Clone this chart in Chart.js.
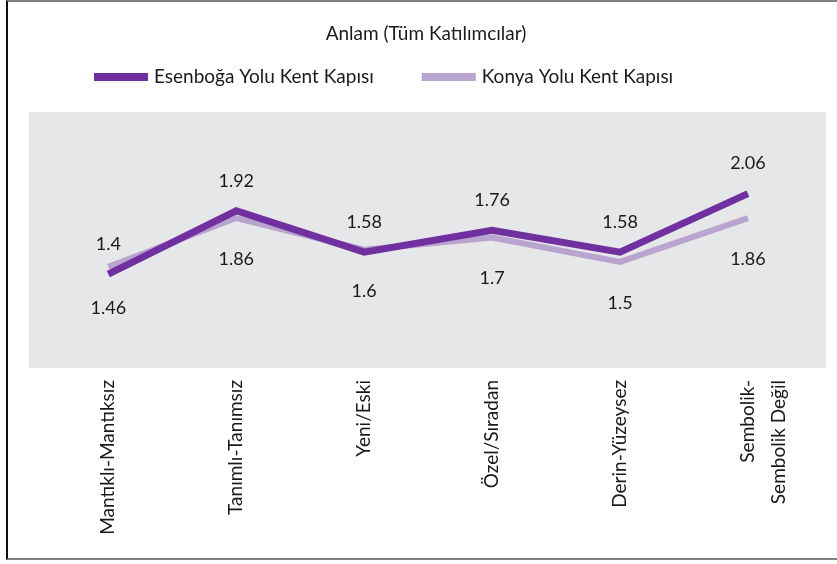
<!DOCTYPE html>
<html>
<head>
<meta charset="utf-8">
<script src="https://cdn.jsdelivr.net/npm/chart.js@4/dist/chart.umd.min.js"></script>
<style>
  html, body { margin: 0; padding: 0; background: #fff; overflow: hidden; }
  #wrap { position: relative; width: 837px; height: 564px; }
  #frame {
    position: absolute; left: 6px; top: 0; width: 900px; height: 556px;
    border-left: 2px solid #111; border-top: 2px solid #808080; border-bottom: 2px solid #808080;
  }
  #chart { position: absolute; left: 0; top: 0; }
</style>
</head>
<body>
<div id="wrap">
  <div id="frame"></div>
  <canvas id="chart" width="837" height="564"></canvas>
</div>
<script>
var chartTitle = "Anlam (Tüm Katılımcılar)";
var categories = [
  "Mantıklı-Mantıksız",
  "Tanımlı-Tanımsız",
  "Yeni/Eski",
  "Özel/Sıradan",
  "Derin-Yüzeysez",
  ["Sembolik-", "Sembolik Değil"]
];
var seriesNames = ["Esenboğa Yolu Kent Kapısı", "Konya Yolu Kent Kapısı"];
var esenboga = [1.4, 1.92, 1.58, 1.76, 1.58, 2.06];
var konya = [1.46, 1.86, 1.6, 1.7, 1.5, 1.86];
var seriesColors = ["#7030a0", "#b9a3cf"];

var FONT = "Lato, 'Open Sans', sans-serif";

function toPoints(values) {
  return values.map(function (v, i) { return { x: i, y: v }; });
}

// grey plot background
var plotBg = {
  id: "plotBg",
  beforeDraw: function (chart) {
    var a = chart.chartArea, ctx = chart.ctx;
    ctx.save();
    ctx.fillStyle = "#e6e7e8";
    ctx.fillRect(a.left, a.top, a.right - a.left, a.bottom - a.top);
    ctx.restore();
  }
};

// title + legend with long line swatches
var header = {
  id: "header",
  afterDraw: function (chart) {
    var ctx = chart.ctx;
    ctx.save();
    ctx.fillStyle = "#1a1a1a";
    ctx.textBaseline = "middle";
    ctx.textAlign = "center";
    ctx.font = "19px " + FONT;
    ctx.fillText(chartTitle, 426, 34);

    ctx.font = "19px " + FONT;
    ctx.textAlign = "left";
    var x = 94;
    chart.data.datasets.forEach(function (ds) {
      ctx.fillStyle = ds.borderColor;
      ctx.fillRect(x, 73, 54, 8);
      ctx.fillStyle = "#1a1a1a";
      ctx.fillText(ds.label, x + 60, 77);
      x += 60 + ctx.measureText(ds.label).width + 48;
    });
    ctx.restore();
  }
};

// value labels, dark above, light below
var valueLabels = {
  id: "valueLabels",
  afterDatasetsDraw: function (chart) {
    var ctx = chart.ctx;
    var offsets = [-30, 41];
    ctx.save();
    ctx.font = "18px " + FONT;
    ctx.fillStyle = "#1a1a1a";
    ctx.textAlign = "center";
    ctx.textBaseline = "middle";
    chart.data.datasets.forEach(function (ds, di) {
      var meta = chart.getDatasetMeta(di);
      meta.data.forEach(function (pt, i) {
        ctx.fillText(String(ds.data[i].y), pt.x, pt.y + offsets[di]);
      });
    });
    ctx.restore();
  }
};

new Chart(document.getElementById("chart"), {
  type: "line",
  data: {
    datasets: [{
      label: seriesNames[0],
      data: toPoints(esenboga),
      borderColor: seriesColors[0],
      backgroundColor: seriesColors[0],
      borderWidth: 7,
      borderCapStyle: "butt",
      borderJoinStyle: "miter",
      pointRadius: 0,
      tension: 0
    }, {
      label: seriesNames[1],
      data: toPoints(konya),
      borderColor: seriesColors[1],
      backgroundColor: seriesColors[1],
      borderWidth: 6,
      borderCapStyle: "butt",
      borderJoinStyle: "miter",
      pointRadius: 0,
      tension: 0
    }]
  },
  options: {
    responsive: false,
    animation: false,
    layout: { padding: { top: 112, left: 29, right: 11, bottom: 0 } },
    plugins: {
      legend: { display: false },
      title: { display: false },
      tooltip: { enabled: false }
    },
    scales: {
      x: {
        type: "linear",
        min: -0.62,
        max: 5.61,
        grid: { display: false },
        border: { display: false },
        afterBuildTicks: function (s) {
          s.ticks = categories.map(function (c, i) { return { value: i }; });
        },
        afterFit: function (s) { s.height = 196; },
        ticks: {
          autoSkip: false,
          minRotation: 90,
          maxRotation: 90,
          padding: 4,
          color: "#1a1a1a",
          font: { family: FONT, size: 19, lineHeight: 1.65 },
          callback: function (v) { return categories[v]; }
        }
      },
      y: {
        display: false,
        min: 0.63,
        max: 2.73
      }
    }
  },
  plugins: [plotBg, header, valueLabels]
});
</script>
</body>
</html>
